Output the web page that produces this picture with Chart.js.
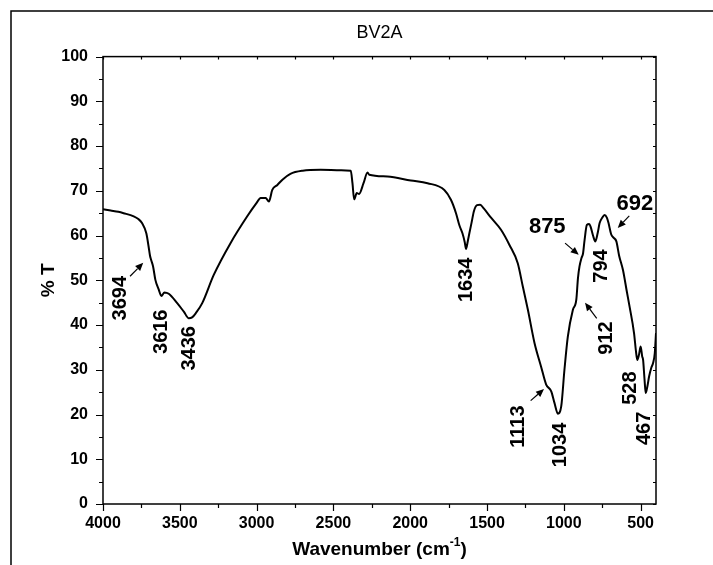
<!DOCTYPE html>
<html>
<head>
<meta charset="utf-8">
<title>BV2A FTIR</title>
<script src="https://cdn.jsdelivr.net/npm/chart.js@4.4.1/dist/chart.umd.min.js"></script>
<style>
  html, body { margin: 0; padding: 0; background: #fff; }
  #wrap { position: relative; width: 713px; height: 565px; overflow: hidden; }
</style>
</head>
<body>
<div id="wrap"><canvas id="ftir" width="713" height="565"></canvas></div>
<script>
// FTIR spectrum of sample BV2A
const wavenumber = [
  4000, 3950, 3900, 3866, 3800, 3770, 3746, 3718, 3703, 3694, 3687, 3674, 3659, 3637,
  3620, 3600, 3572, 3517, 3474, 3441, 3420, 3395, 3354, 3279, 3170, 3061, 3000, 2974,
  2941, 2920, 2898, 2865, 2832, 2780, 2700, 2583, 2450, 2387, 2376, 2365, 2348, 2333,
  2304, 2278, 2267, 2148, 1996, 1887, 1778, 1735, 1702, 1680, 1660, 1645, 1637, 1625,
  1615, 1600, 1585, 1565, 1545, 1520, 1474, 1409, 1354, 1300, 1267, 1234, 1191, 1148,
  1115, 1082, 1061, 1039, 1017, 996, 974, 941, 919, 908, 898, 885, 875, 865, 850, 835,
  826, 810, 795, 780, 767, 750, 735, 720, 709, 692, 675, 658, 640, 615, 590, 572, 543,
  530, 522, 510, 500, 490, 484, 475, 467, 455, 445, 430, 419, 408, 400
];
const transmittance = [
  65.9, 65.6, 65.3, 65.0, 64.3, 63.7, 62.8, 60.5, 57.5, 55.5, 54.6, 53.1, 50.1, 47.9,
  46.5, 47.3, 47.0, 44.9, 43.0, 41.5, 41.7, 42.7, 44.9, 51.2, 58.3, 64.3, 67.3, 68.4,
  68.4, 67.6, 70.2, 71.3, 72.5, 73.8, 74.5, 74.7, 74.6, 74.5, 71.7, 68.1, 69.5, 69.3,
  71.7, 74.1, 73.6, 73.2, 72.3, 71.7, 70.2, 68.0, 65.0, 62.3, 60.5, 58.5, 57.0, 58.8,
  60.5, 63.0, 65.5, 66.8, 66.9, 66.0, 64.0, 61.3, 57.9, 53.8, 48.6, 43.4, 36.0, 30.7,
  26.7, 25.2, 22.6, 20.2, 21.8, 30.0, 37.4, 43.4, 45.6, 50.5, 53.1, 55.0, 56.0, 59.0, 62.4, 62.6,
  62.0, 60.0, 58.7, 60.5, 62.8, 64.0, 64.6, 64.0, 62.8, 60.3, 59.5, 58.7, 55.5, 52.3, 47.5, 44.1, 38.2,
  34.0, 32.2, 33.5, 35.2, 33.0, 32.2, 28.0, 24.8, 26.5, 28.5, 30.5, 31.5, 33.7, 38.2
];

const xTicks = [4000, 3500, 3000, 2500, 2000, 1500, 1000, 500];
const yTicks = [0, 10, 20, 30, 40, 50, 60, 70, 80, 90, 100];

// band assignments: text, anchor (cm-1, %T), vertical or not
const peakText = ['3694', '3616', '3436', '1634', '1113', '1034', '875', '912', '794', '692', '528', '467'];
const peakAtX  = [3889, 3618, 3434, 1632, 1296, 1025, 1108, 721, 758, 537, 569, 472];
const peakAtY  = [46.0, 38.5, 34.8, 50.1, 17.3, 13.2, 62.0, 37.1, 53.2, 67.1, 25.9, 16.9];
const peakUpright = [false, false, false, false, false, false, true, false, false, true, false, false];

// small pointer arrows for shoulders
const arrowFromX = [3824, 1216, 992, 786, 574];
const arrowFromY = [50.9, 23.1, 58.3, 41.5, 64.4];
const arrowToX   = [3738, 1129, 903, 862, 649];
const arrowToY   = [53.9, 25.7, 55.7, 45.0, 61.7];

const FONT = "'Liberation Sans', Arial, sans-serif";

const spectrum = wavenumber.map((w, i) => ({ x: w, y: transmittance[i] }));

// frame, ticks, x title and band labels
const decorations = {
  id: 'decorations',
  beforeDraw(chart) {
    const ctx = chart.ctx;
    ctx.save();
    ctx.strokeStyle = '#000';
    ctx.lineWidth = 1.5;
    ctx.beginPath();
    ctx.moveTo(11, 565);
    ctx.lineTo(11, 11);
    ctx.lineTo(713, 11);
    ctx.stroke();
    ctx.restore();
  },
  afterDatasetsDraw(chart) {
    const { ctx, chartArea: a, scales: { x, y } } = chart;
    ctx.save();
    ctx.strokeStyle = '#000';
    ctx.lineWidth = 1.5;
    ctx.strokeRect(a.left, a.top, a.right - a.left, a.bottom - a.top);

    ctx.lineWidth = 1.2;
    ctx.beginPath();
    for (let v = 0; v <= 100; v += 5) {
      const py = Math.round(y.getPixelForValue(v)) + 0.5;
      const len = v % 10 === 0 ? 7 : 4;
      ctx.moveTo(a.left - len, py); ctx.lineTo(a.left, py);
      ctx.moveTo(a.right, py); ctx.lineTo(a.right - 3, py);
    }
    for (let v = 500; v <= 4000; v += 250) {
      const px = Math.round(x.getPixelForValue(v)) + 0.5;
      const len = v % 500 === 0 ? 7 : 4;
      ctx.moveTo(px, a.bottom); ctx.lineTo(px, a.bottom + len);
      ctx.moveTo(px, a.top); ctx.lineTo(px, a.top + 3);
    }
    ctx.stroke();

    // x axis title with superscript
    const cx = (a.left + a.right) / 2;
    const ty = 550;
    ctx.fillStyle = '#000';
    ctx.textBaseline = 'middle';
    ctx.textAlign = 'left';
    const big = 'bold 19px ' + FONT;
    const small = 'bold 12px ' + FONT;
    ctx.font = big;
    const p1 = 'Wavenumber (cm', p3 = ')';
    const w1 = ctx.measureText(p1).width, w3 = ctx.measureText(p3).width;
    ctx.font = small;
    const w2 = ctx.measureText('-1').width;
    let sx = cx - (w1 + w2 + w3) / 2;
    ctx.font = big;
    ctx.fillText(p1, sx, ty);
    ctx.font = small;
    ctx.fillText('-1', sx + w1, ty - 7);
    ctx.font = big;
    ctx.fillText(p3, sx + w1 + w2, ty);

    // band labels
    ctx.textAlign = 'center';
    peakText.forEach((t, i) => {
      const px = x.getPixelForValue(peakAtX[i]);
      const py = y.getPixelForValue(peakAtY[i]);
      ctx.save();
      ctx.translate(px, py);
      if (peakUpright[i]) {
        ctx.font = 'bold 22px ' + FONT;
      } else {
        ctx.font = 'bold 20px ' + FONT;
        ctx.rotate(-Math.PI / 2);
      }
      ctx.fillText(t, 0, 0);
      ctx.restore();
    });

    // arrows
    ctx.lineWidth = 1.2;
    arrowFromX.forEach((fx, i) => {
      const x0 = x.getPixelForValue(fx), y0 = y.getPixelForValue(arrowFromY[i]);
      const x1 = x.getPixelForValue(arrowToX[i]), y1 = y.getPixelForValue(arrowToY[i]);
      const ang = Math.atan2(y1 - y0, x1 - x0);
      const hl = 8, hw = 3.5;
      const bx = x1 - hl * Math.cos(ang), by = y1 - hl * Math.sin(ang);
      ctx.beginPath();
      ctx.moveTo(x0, y0);
      ctx.lineTo(bx, by);
      ctx.stroke();
      ctx.beginPath();
      ctx.moveTo(x1, y1);
      ctx.lineTo(bx + hw * Math.sin(ang), by - hw * Math.cos(ang));
      ctx.lineTo(bx - hw * Math.sin(ang), by + hw * Math.cos(ang));
      ctx.closePath();
      ctx.fill();
    });
    ctx.restore();
  }
};

new Chart(document.getElementById('ftir'), {
  type: 'line',
  data: {
    datasets: [{
      label: 'BV2A',
      data: spectrum,
      borderColor: '#000',
      borderWidth: 2,
      pointRadius: 0,
      cubicInterpolationMode: 'monotone',
      fill: false
    }]
  },
  options: {
    responsive: false,
    animation: false,
    layout: { padding: { top: 0, left: 0, right: 57, bottom: 0 } },
    plugins: {
      legend: { display: false },
      tooltip: { enabled: false },
      title: {
        display: true,
        text: 'BV2A',
        fullSize: false,
        color: '#000',
        font: { family: FONT, size: 18, weight: 'normal' },
        padding: { top: 22, bottom: 13 }
      }
    },
    scales: {
      x: {
        type: 'linear',
        reverse: true,
        min: 400,
        max: 4000,
        afterBuildTicks: (s) => { s.ticks = xTicks.map(v => ({ value: v })); },
        afterFit: (s) => { s.height = 61; },
        grid: { display: false, drawTicks: false, tickLength: 0 },
        border: { display: false },
        ticks: {
          color: '#000',
          font: { family: FONT, size: 16, weight: 'bold' },
          padding: 10,
          maxRotation: 0,
          autoSkip: false,
          callback: (v) => String(v)
        }
      },
      y: {
        min: 0,
        max: 100,
        afterBuildTicks: (s) => { s.ticks = yTicks.map(v => ({ value: v })); },
        afterFit: (s) => { s.width = 103; },
        grid: { display: false, drawTicks: false, tickLength: 0 },
        border: { display: false },
        ticks: {
          color: '#000',
          font: { family: FONT, size: 16, weight: 'bold' },
          padding: 15,
          callback: (v) => String(v)
        },
        title: {
          display: true,
          text: '% T',
          color: '#000',
          font: { family: FONT, size: 19, weight: 'bold' },
          padding: { top: 37, bottom: 0 }
        }
      }
    }
  },
  plugins: [decorations]
});
</script>
</body>
</html>
